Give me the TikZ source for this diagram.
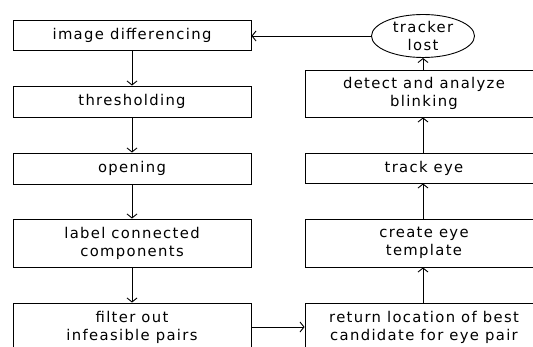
\documentclass[tikz,border=0pt]{standalone}
\usepackage{fontspec}
\setmainfont[LetterSpace=9]{DejaVu Sans}
\usetikzlibrary{arrows.meta,shapes.geometric}
\begin{document}
\begin{tikzpicture}[x=1pt,y=-1pt,
  box/.style={draw=black,line width=0.9pt,rectangle,minimum width=238pt,inner sep=0pt,align=center,font=\fontsize{14.8}{18}\selectfont},
  oval/.style={draw=black,line width=0.9pt,ellipse,minimum width=103pt,minimum height=43pt,inner sep=0pt,align=center,font=\fontsize{14.8}{18}\selectfont},
  arr/.style={draw=black,line width=0.9pt,-{Straight Barb[length=4pt,width=10pt]}}]
\useasboundingbox (0,0) rectangle (533,347);
\clip (0,0) rectangle (533,347);
\fill[white] (0,0) rectangle (533,347);
\node[box,minimum height=30pt] (n1) at (132,35) {image differencing};
\node[box,minimum height=31pt] (n2) at (132,101.5) {thresholding};
\node[box,minimum height=31pt] (n3) at (132,168.5) {opening};
\node[box,minimum height=48pt] (n4) at (132,243) {label connected\\components};
\node[box,minimum height=48pt] (n5) at (132,327) {filter out\\infeasible pairs};
\node[oval] (e) at (423,36) {tracker\\lost};
\node[box,minimum height=47pt] (r1) at (424,93.5) {detect and analyze\\blinking};
\node[box,minimum height=30pt] (r2) at (424,168) {track eye};
\node[box,minimum height=48pt] (r3) at (424,243) {create eye\\template};
\node[box,minimum height=48pt] (r4) at (424,327) {return location of best\\candidate for eye pair};
\draw[arr] (n1) -- (n2);
\draw[arr] (n2) -- (n3);
\draw[arr] (n3) -- (n4);
\draw[arr] (n4) -- (n5);
\draw[arr] (n5.east) -- (r4.west);
\draw[arr] (r4.north -| e.south) -- (r3.south -| e.south);
\draw[arr] (r3.north -| e.south) -- (r2.south -| e.south);
\draw[arr] (r2.north -| e.south) -- (r1.south -| e.south);
\draw[arr] (r1.north -| e.south) -- (e.south);
\draw[arr] (e.west) -- (n1.east |- e.west);
\end{tikzpicture}
\end{document}
